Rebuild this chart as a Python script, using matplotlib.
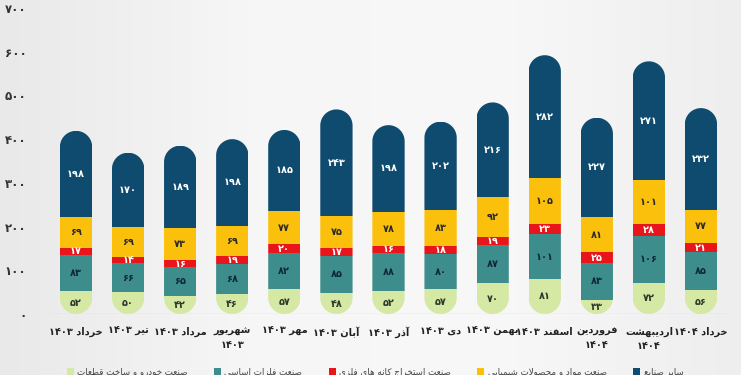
import re
import numpy as np
import matplotlib
matplotlib.use("Agg")
import matplotlib.pyplot as plt
from matplotlib.patches import Polygon, Patch
from matplotlib.colors import LinearSegmentedColormap

# ---- data (bottom -> top of each bar) ----
months = ["خرداد ۱۴۰۳", "تیر ۱۴۰۳", "مرداد ۱۴۰۳", "شهریور\n۱۴۰۳", "مهر ۱۴۰۳", "آبان ۱۴۰۳",
          "آذر ۱۴۰۳", "دی ۱۴۰۳", "بهمن ۱۴۰۳", "اسفند ۱۴۰۳", "فروردین\n۱۴۰۴",
          "اردیبهشت\n۱۴۰۴", "خرداد ۱۴۰۴"]
khodro = [52, 50, 42, 46, 57, 48, 52, 57, 70, 81, 33, 72, 56]
felezat = [83, 66, 65, 68, 82, 85, 88, 80, 87, 101, 83, 106, 85]
estekhraj = [17, 14, 16, 19, 20, 17, 16, 18, 19, 23, 25, 28, 21]
shimiaei = [69, 69, 73, 69, 77, 75, 78, 83, 92, 105, 81, 101, 77]
sayer = [198, 170, 189, 198, 185, 243, 198, 202, 216, 282, 227, 271, 232]

series_names = ["صنعت خودرو و ساخت قطعات", "صنعت فلزات اساسی", "صنعت استخراج کانه های فلزی",
                "صنعت مواد و محصولات شیمیایی", "سایر صنایع"]
colors = ["#d5e8a4", "#3d8d8c", "#e8151b", "#fbc00b", "#0e4b6e"]
label_colors = ["#2b3a2b", "#10263a", "white", "#2b2b2b", "white"]
yticks = [0, 100, 200, 300, 400, 500, 600, 700]

# ---- simple persian shaping (matplotlib has no bidi/shaping) ----
FORMS = {
    'ا': ('\uFE8D', '\uFE8E', None, None), 'آ': ('\uFE81', '\uFE82', None, None),
    'ب': ('\uFE8F', '\uFE90', '\uFE91', '\uFE92'), 'ت': ('\uFE95', '\uFE96', '\uFE97', '\uFE98'),
    'ج': ('\uFE9D', '\uFE9E', '\uFE9F', '\uFEA0'), 'ح': ('\uFEA1', '\uFEA2', '\uFEA3', '\uFEA4'),
    'خ': ('\uFEA5', '\uFEA6', '\uFEA7', '\uFEA8'), 'د': ('\uFEA9', '\uFEAA', None, None),
    'ذ': ('\uFEAB', '\uFEAC', None, None), 'ر': ('\uFEAD', '\uFEAE', None, None),
    'ز': ('\uFEAF', '\uFEB0', None, None), 'س': ('\uFEB1', '\uFEB2', '\uFEB3', '\uFEB4'),
    'ش': ('\uFEB5', '\uFEB6', '\uFEB7', '\uFEB8'), 'ص': ('\uFEB9', '\uFEBA', '\uFEBB', '\uFEBC'),
    'ط': ('\uFEC1', '\uFEC2', '\uFEC3', '\uFEC4'), 'ع': ('\uFEC9', '\uFECA', '\uFECB', '\uFECC'),
    'ف': ('\uFED1', '\uFED2', '\uFED3', '\uFED4'), 'ق': ('\uFED5', '\uFED6', '\uFED7', '\uFED8'),
    'ک': ('\uFB8E', '\uFB8F', '\uFB90', '\uFB91'), 'ل': ('\uFEDD', '\uFEDE', '\uFEDF', '\uFEE0'),
    'م': ('\uFEE1', '\uFEE2', '\uFEE3', '\uFEE4'), 'ن': ('\uFEE5', '\uFEE6', '\uFEE7', '\uFEE8'),
    'ه': ('\uFEE9', '\uFEEA', '\uFEEB', '\uFEEC'), 'و': ('\uFEED', '\uFEEE', None, None),
    'ی': ('\uFBFC', '\uFBFD', '\uFBFE', '\uFBFF'),
}
LAMALEF = {'ا': ('\uFEFB', '\uFEFC'), 'آ': ('\uFEF5', '\uFEF6')}


def shape(word):
    out, i, prev_dual = [], 0, False
    while i < len(word):
        ch = word[i]
        if ch == 'ل' and i + 1 < len(word) and word[i + 1] in LAMALEF:
            lig = LAMALEF[word[i + 1]]
            out.append(lig[1] if prev_dual else lig[0])
            prev_dual = False
            i += 2
            continue
        if ch not in FORMS:
            out.append(ch)
            prev_dual = False
            i += 1
            continue
        f = FORMS[ch]
        nxt = word[i + 1] if i + 1 < len(word) else ''
        joins_next = f[2] is not None and nxt in FORMS
        if prev_dual and joins_next:
            g = f[3]
        elif prev_dual:
            g = f[1]
        elif joins_next:
            g = f[2]
        else:
            g = f[0]
        out.append(g)
        prev_dual = f[2] is not None
        i += 1
    return ''.join(out)


def rtl(s):
    lines = []
    for line in s.split('\n'):
        runs = re.findall(r'[0-9\u06F0-\u06F9]+|[^0-9\u06F0-\u06F9]+', line)
        vis = [r if re.match(r'[0-9\u06F0-\u06F9]', r) else shape(r)[::-1] for r in runs]
        lines.append(''.join(reversed(vis)))
    return '\n'.join(lines)


def fa(n):
    return str(n).translate(str.maketrans('0123456789', '۰۱۲۳۴۵۶۷۸۹'))


plt.rcParams['font.family'] = ['DejaVu Sans']

fig = plt.figure(figsize=(7.5, 3.75), dpi=100)
fig.patch.set_facecolor('white')

# light grey gradient background
bg = fig.add_axes([0, 0, 0.988, 1], zorder=-5)
grad = np.linspace(0, 1, 256)
grad = np.vstack([grad, grad])
cmap = LinearSegmentedColormap.from_list('bg', ['#e9e9e9', '#f6f6f6', '#f8f8f8', '#eeeeee'])
bg.imshow(grad, aspect='auto', cmap=cmap, extent=[0, 1, 0, 1])
bg.axis('off')

ax_left, ax_bottom, ax_w, ax_h = 50 / 750, 1 - 314 / 375, 677 / 750, 306 / 375
ax = fig.add_axes([ax_left, ax_bottom, ax_w, ax_h])
ax.set_facecolor('none')

x = np.arange(len(months))
width = 0.62
ax.set_xlim(-0.5, len(months) - 0.5)
ax.set_ylim(0, 700)

# pixel scales for the rounded capsule ends
px_x = ax_w * 750 / len(months)
px_y = ax_h * 375 / 700
ry = (width / 2) * px_x / px_y

data = [khodro, felezat, estekhraj, shimiaei, sayer]
totals = np.sum(data, axis=0)

caps = []
t = np.linspace(0, np.pi, 40)
for xi, tot in zip(x, totals):
    top_x = xi + (width / 2) * np.cos(t)
    top_y = tot - ry + ry * np.sin(t)
    bot_x = xi + (width / 2) * np.cos(t + np.pi)
    bot_y = ry + ry * np.sin(t + np.pi)
    poly = Polygon(np.column_stack([np.r_[top_x, bot_x], np.r_[top_y, bot_y]]),
                   closed=True, transform=ax.transData, facecolor='none', edgecolor='none')
    caps.append(poly)

bottom = np.zeros(len(months))
for vals, col, lc in zip(data, colors, label_colors):
    bars = ax.bar(x, vals, width, bottom=bottom, color=col, edgecolor='none', zorder=2)
    for bar, cap in zip(bars, caps):
        bar.set_clip_path(cap)
    for xi, b, v in zip(x, bottom, vals):
        ax.text(xi, b + v / 2, fa(v), ha='center', va='center', color=lc,
                fontsize=7, fontweight='bold', zorder=3)
    bottom = bottom + np.array(vals)

ax.axhline(0, color='#d8d8d8', lw=1, zorder=1)

ax.set_yticks(yticks)
ax.set_yticklabels([fa(v) for v in yticks], fontsize=8.5, fontweight='bold', color='#333333')
ax.set_xticks(x)
ax.set_xticklabels([rtl(m) for m in months], fontsize=7.0, fontweight='bold', color='#222222',
                   linespacing=1.5, va='top')
ax.tick_params(axis='y', length=0, pad=17)
ax.tick_params(axis='x', length=0, pad=9)
for s in ax.spines.values():
    s.set_visible(False)

handles = [Patch(facecolor=c, edgecolor='none') for c in colors]
fig.legend(handles, [rtl(n) for n in series_names], loc='center', ncol=5,
           bbox_to_anchor=(0.5, 3 / 375), frameon=False, fontsize=6.3,
           handlelength=0.8, handleheight=0.8, handletextpad=0.4, columnspacing=3.0,
           labelcolor='#444444')

fig.savefig('out.png', dpi=100, facecolor=fig.get_facecolor())
